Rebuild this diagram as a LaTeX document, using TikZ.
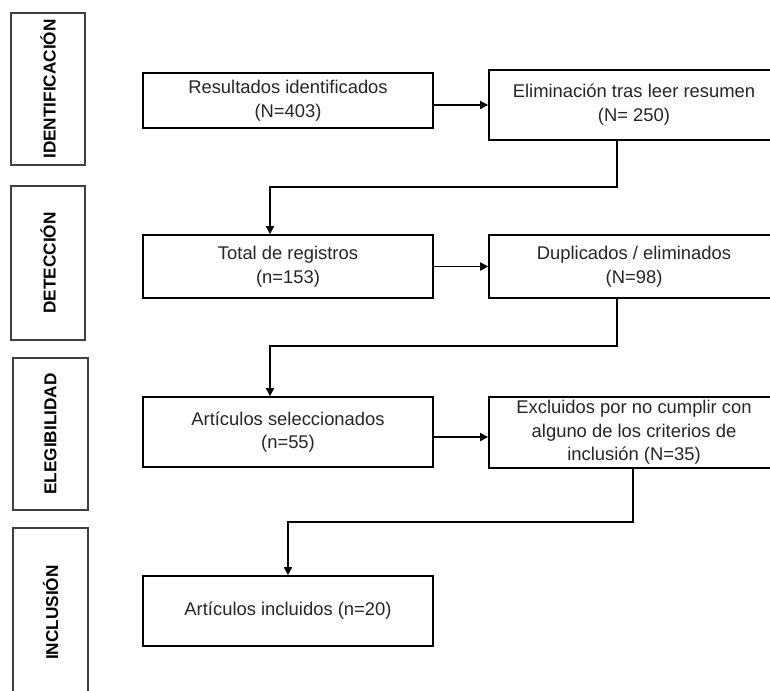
\documentclass[tikz,border=0pt]{standalone}
\usepackage{fontspec}
\setmainfont{Liberation Sans}
\usetikzlibrary{arrows.meta}
\begin{document}
\begin{tikzpicture}[x=0.75pt,y=-0.75pt,
  mbox/.style={draw=black,line width=1.3pt,align=center,inner sep=0pt,
    minimum width=217.5pt,text=black!85,
    font=\fontsize{13.8}{17.8}\selectfont},
  lbox/.style={draw=black!75,line width=0.8pt,inner sep=0pt,minimum width=55.5pt},
  ltext/.style={rotate=90,font=\fontsize{12.9}{14}\selectfont\bfseries,text=black},
  arr/.style={draw=black,line width=1.4pt,-{Triangle[length=6pt,width=6pt]}}]
\fill[white] (0,0) rectangle (770,691);
\clip (0,0) rectangle (770,691);
% left phase boxes
\node[lbox,minimum height=114pt] (lid) at (48,89) {};
\node[ltext] (tid) at (lid.center) {IDENTIFICACIÓN};
\node[lbox,minimum height=115.5pt] (ldet) at (48,263) {};
\node[ltext] (tdet) at (ldet.center) {DETECCIÓN};
\node[lbox,minimum height=114pt,minimum width=56.25pt] (lel) at (50.5,434) {};
\node[ltext] (tel) at (lel.center) {ELEGIBILIDAD};
\node[lbox,minimum height=126.75pt,minimum width=56.25pt] (lin) at (50.5,612.5) {};
\node[ltext] (tin) at (lin.center) {INCLUSIÓN};
% main boxes
\node[mbox,minimum height=41.25pt] (res) at (288,100.5) {Resultados identificados\\(N=403)};
\node[mbox,minimum height=52.5pt] (elim) at (634,105) {Eliminación tras leer resumen\\(N= 250)};
\node[mbox,minimum height=47.25pt] (tot) at (288,266.5) {Total de registros\\(n=153)};
\node[mbox,minimum height=47.25pt] (dup) at (634,266.5) {Duplicados / eliminados\\(N=98)};
\node[mbox,minimum height=52.5pt] (sel) at (288,432) {Artículos seleccionados\\(n=55)};
\node[mbox,minimum height=53.25pt] (exc) at (634,432.5) {Excluidos por no cumplir con\\alguno de los criterios de\\inclusión (N=35)};
\node[mbox,minimum height=52.5pt] (inc) at (288,611) {Artículos incluidos (n=20)};
% connectors
\draw[arr] (res.east|-elim.west) -- (elim.west);
\draw[arr] ([xshift=-12.75pt]elim.south) -- ++(0,46) -| ([xshift=-13.5pt]tot.north);
\draw[arr] (tot.east) -- (dup.west);
\draw[arr] ([xshift=-12.75pt]dup.south) -- ++(0,47) -| ([xshift=-13.5pt]sel.north);
\draw[arr,transform canvas={yshift=-3.75pt}] (sel.east) -- (exc.west|-sel.east);
\draw[arr] ([xshift=-0.75pt]exc.south) -- ++(0,53) -| (inc.north);
\end{tikzpicture}
\end{document}
